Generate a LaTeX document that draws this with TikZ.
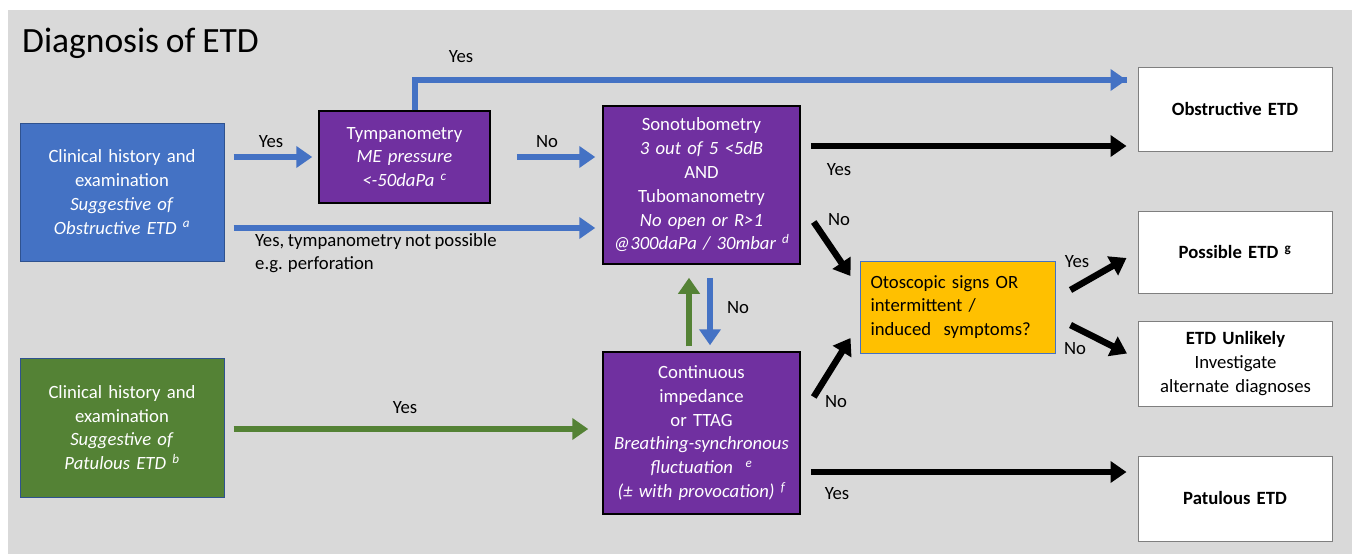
\documentclass[tikz,border=0pt]{standalone}
\usepackage{fontspec}
\setmainfont{Carlito}[WordSpace=0.85]
\usetikzlibrary{arrows.meta}
\definecolor{bg}{HTML}{D9D9D9}
\definecolor{cblue}{HTML}{4472C4}
\definecolor{cblueb}{HTML}{2F528F}
\definecolor{cpurple}{HTML}{7030A0}
\definecolor{cgreen}{HTML}{548235}
\definecolor{corange}{HTML}{FFC000}
\definecolor{cgrayb}{HTML}{7F7F7F}
\tikzset{
  txt/.style={font=\fontsize{18.7}{23.8}\selectfont},
  box/.style={txt, inner sep=0pt, align=center},
  bluebox/.style={box, fill=cblue, draw=cblueb, line width=1pt, text=white, minimum width=204pt, minimum height=138pt, text width=200pt},
  greenbox/.style={box, fill=cgreen, draw=cblueb, line width=1pt, text=white, minimum width=204pt, minimum height=139pt, text width=200pt},
  purplebox/.style={box, fill=cpurple, draw=black, line width=1.5pt, text=white, text width=195pt},
  orangebox/.style={box, fill=corange, draw=cblue, line width=1pt, text=black, minimum width=195pt, minimum height=92pt, text width=174pt, align=left},
  resbox/.style={box, fill=white, draw=cgrayb, line width=1pt, text=black, minimum width=194pt, text width=190pt},
  lbl/.style={txt, inner sep=0pt, text=black},
  arr/.style={line width=6.5pt, -{Triangle[width=21pt,length=16pt]}},
  barr/.style={arr, draw=cblue},
  garr/.style={arr, draw=cgreen},
  karr/.style={arr, draw=black},
}
\begin{document}
\begin{tikzpicture}[x=1pt,y=-1pt]
\useasboundingbox (0,0) rectangle (1352,554);
\fill[white] (0,0) rectangle (1352,554);
\fill[bg] (8,10) rectangle (1352,554);
\node[lbl, anchor=west, font=\fontsize{35.5}{42}\selectfont] (title) at (22,43.5) {Diagnosis of ETD};

\node[bluebox] (blue) at (122,192) {Clinical history and\\examination\\\textit{Suggestive of}\\\textit{Obstructive ETD \textsuperscript{a}}};
\node[greenbox] (green) at (122,427.5) {Clinical history and\\examination\\\textit{Suggestive of}\\\textit{Patulous ETD \textsuperscript{b}}};
\node[purplebox, minimum width=171pt, minimum height=92pt, text width=167pt] (tymp) at (404.5,157) {Tympanometry\\\textit{ME pressure}\\\textit{<-50daPa \textsuperscript{c}}};
\node[purplebox, minimum width=197pt, minimum height=158pt] (sono) at (701.5,185) {Sonotubometry\\\textit{3 out of 5 <5dB}\\AND\\Tubomanometry\\\textit{No open or R>1}\\\textit{@300daPa / 30mbar \textsuperscript{d}}};
\node[purplebox, minimum width=197pt, minimum height=162pt] (cont) at (701.5,433) {Continuous\\impedance\\or TTAG\\\textit{Breathing-synchronous}\\\textit{fluctuation \ \textsuperscript{e}}\\\textit{(± with provocation) \textsuperscript{f}}};
\node[orangebox] (oto) at (957.5,307) {Otoscopic signs OR\\intermittent /\\induced\ \ symptoms?};
\node[resbox, minimum height=84pt] (obs) at (1235,109) {\textbf{Obstructive ETD}};
\node[resbox, minimum height=82pt] (poss) at (1235,252) {\textbf{Possible ETD \textsuperscript{g}}};
\node[resbox, minimum height=85pt] (unl) at (1235.5,363.5) {\textbf{ETD Unlikely}\\Investigate\\alternate diagnoses};
\node[resbox, minimum height=85pt] (pat) at (1235,498.5) {\textbf{Patulous ETD}};

% connectors
\draw[barr] ([shift={(9,-35)}]blue.east) -- ([shift={(-6,0)}]tymp.west);
\draw[barr] ([shift={(26,0)}]tymp.east) -- ([shift={(-7,-28)}]sono.west);
\draw[barr] ([shift={(9,36)}]blue.east) -- ([shift={(-7,43)}]sono.west);
\draw[barr, -] ([shift={(10.5,0)}]tymp.north) |- ([shift={(-11,-29)}]obs.west) coordinate (tyend);
\draw[barr] ([shift={(-30,0)}]tyend) -- (tyend);
\draw[karr] ([shift={(10,-39)}]sono.east) -- ([shift={(-11,37)}]obs.west);
\draw[karr] ([shift={(13,37)}]sono.east) -- ([shift={(-9,-31)}]oto.west);
\draw[karr] ([shift={(13,-36)}]cont.east) -- ([shift={(-9,31)}]oto.west);
\draw[karr] ([shift={(15,-17)}]oto.east) -- ([shift={(-11,6)}]poss.west);
\draw[karr] ([shift={(15,18)}]oto.east) -- ([shift={(-11,-10)}]unl.west);
\draw[karr] ([shift={(10,39)}]cont.east) -- ([shift={(-11,-26.5)}]pat.west);
\draw[garr] ([shift={(9,1.5)}]green.east) -- ([shift={(-14,-4)}]cont.west);
\draw[garr] ([shift={(-12.5,-5)}]cont.north) -- ([shift={(-12.5,13)}]sono.south);
\draw[barr] ([shift={(8.5,13)}]sono.south) -- ([shift={(8.5,-6)}]cont.north);

% labels
\node[lbl] (l1) at (271,142) {Yes};
\node[lbl] (l2) at (547,142) {No};
\node[lbl] (l3) at (461,57) {Yes};
\node[lbl, anchor=north west, align=left] (l4) at (255,233) {Yes, tympanometry not possible\\e.g. perforation};
\node[lbl] (l5) at (839,170) {Yes};
\node[lbl] (l6) at (839,220) {No};
\node[lbl] (l7) at (738,308) {No};
\node[lbl] (l8) at (405,408) {Yes};
\node[lbl] (l9) at (836,402) {No};
\node[lbl] (l10) at (1077,262) {Yes};
\node[lbl] (l11) at (1075,349) {No};
\node[lbl] (l12) at (837,494) {Yes};
\end{tikzpicture}
\end{document}
